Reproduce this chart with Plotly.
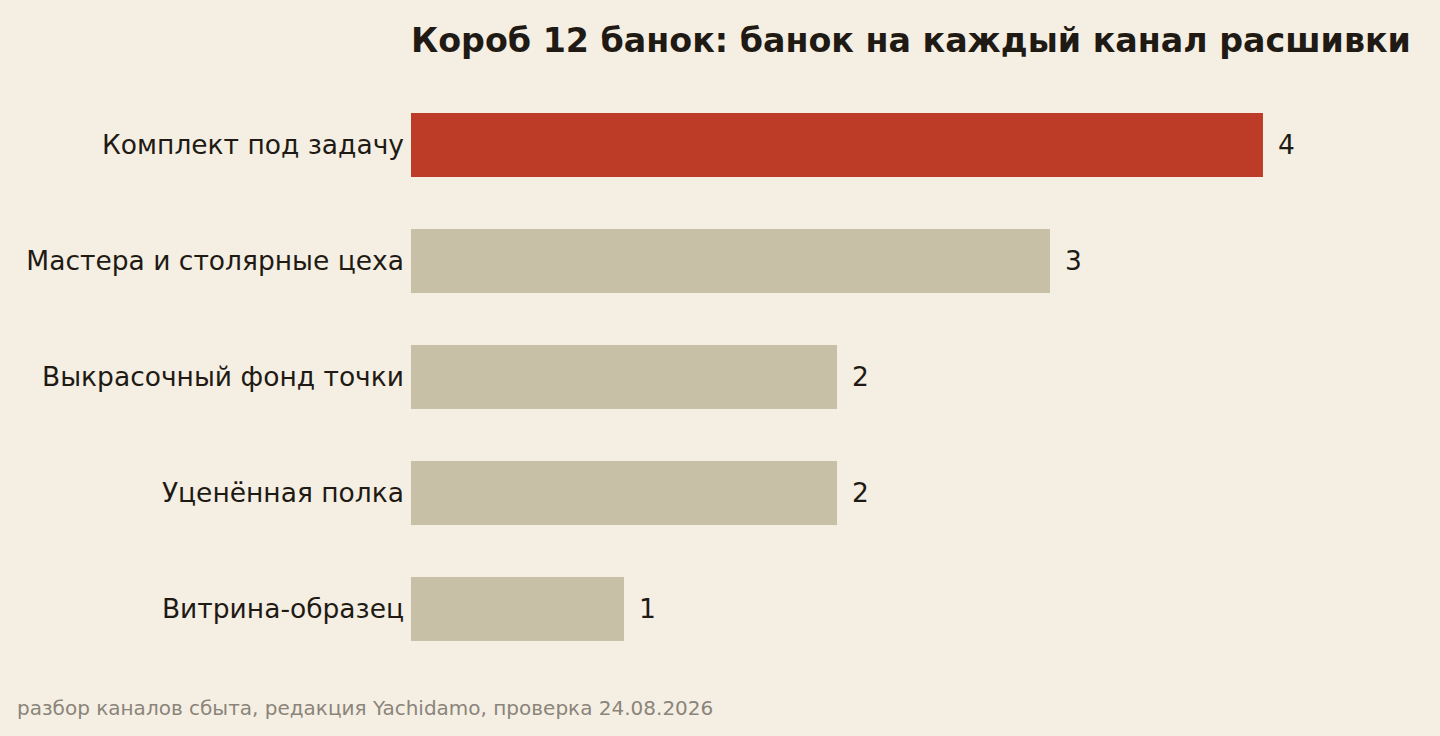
import plotly.graph_objects as go

# каналы сверху вниз и число банок на каждый
channels = ['Комплект под задачу', 'Мастера и столярные цеха', 'Выкрасочный фонд точки',
            'Уценённая полка', 'Витрина-образец']
cans = [4, 3, 2, 2, 1]
highlight = 'Комплект под задачу'

title_text = 'Короб 12 банок: банок на каждый канал расшивки'
source_text = 'разбор каналов сбыта, редакция Yachidamo, проверка 24.08.2026'

bg = '#f5efe3'
ink = '#1f1a14'
colors = ['#bc3c27' if c == highlight else '#c8bfa7' for c in channels]

fig = go.Figure(go.Bar(
    x=cans,
    y=channels,
    orientation='h',
    marker=dict(color=colors, line=dict(width=0)),
    width=0.55,
    hoverinfo='skip',
))

# подписи значений справа от столбцов
for c, v in zip(channels, cans):
    fig.add_annotation(x=v, y=c, text=str(v), xref='x', yref='y',
                       xanchor='left', yanchor='middle', xshift=13, yshift=1, showarrow=False,
                       font=dict(size=26.5, color=ink))

fig.add_annotation(text=source_text, xref='paper', yref='paper', x=-0.396, y=-0.071,
                   xanchor='left', yanchor='middle', showarrow=False,
                   font=dict(size=20, color='#8a847a'))

fig.update_layout(
    width=1440, height=736,
    paper_bgcolor=bg, plot_bgcolor=bg,
    font=dict(family='DejaVu Sans', color=ink),
    margin=dict(l=411, r=29, t=87, b=69),
    title=dict(text='<b>' + title_text + '</b>', x=411 / 1440, xref='container', xanchor='left',
               y=1 - 40 / 736, yref='container', yanchor='middle',
               font=dict(size=33.3, color=ink)),
    showlegend=False,
    bargap=0.45,
)
fig.update_xaxes(range=[0, 4.695], visible=False, fixedrange=True)
fig.update_yaxes(autorange='reversed', showgrid=False, zeroline=False, showline=False,
                 ticks='', ticklabelstandoff=6, tickfont=dict(size=26.5, color=ink), fixedrange=True)

fig.write_html('out.html', config={'displayModeBar': False},
               post_script="document.body.style.margin='0';")
